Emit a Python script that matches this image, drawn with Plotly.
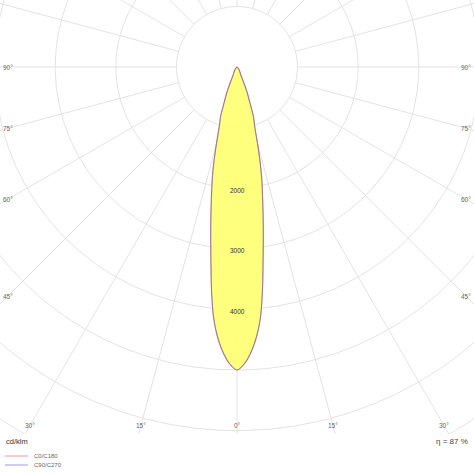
import numpy as np
import plotly.graph_objects as go

# ---------------- data ----------------
gamma_deg = [0, 1.55, 3.03, 4.27, 5.37, 6.52, 8.15, 9.17, 10.3, 12.16, 13.12, 14.52,
             16.79, 18.26, 19.56, 21.8, 23.4, 25.4, 30, 40, 50, 60, 70, 80, 90]
i_c0_c180 = [5000, 4886, 4677, 4435, 4144, 3704, 3051, 2724, 2398, 1958, 1745, 1415,
             1000, 869, 666, 444, 270, 146, 100, 40, 15, 5, 2, 0, 0]
i_c90_c270 = [5000, 4886, 4677, 4435, 4144, 3704, 3051, 2724, 2398, 1958, 1745, 1415,
              1000, 869, 666, 444, 270, 146, 100, 40, 15, 5, 2, 0, 0]
ring_values = [1000, 2000, 3000, 4000, 5000, 6000, 7000]
ring_labels = [2000, 3000, 4000]
spoke_angles = list(range(0, 360, 15))
side_label_angles = [90, 75, 60, 45]
bottom_label_angles = [30, 15, 0]
unit_text = "cd/klm"
efficiency_text = "η = 87 %"
series_names = ["C0/C180", "C90/C270"]

# ---------------- geometry ----------------
W, H_PLOT, MB = 474, 434, 40
CX, CY = 237, 67          # pixel position of the luminaire
S = 0.0606                # px per cd/klm

def px2x(px):
    return (px - CX) / S

def px2y(py):
    return (CY - py) / S

def curve(ivals):
    g = np.radians(np.array(gamma_deg, dtype=float))
    iv = np.array(ivals, dtype=float)
    gl = -g[::-1]
    il = iv[::-1]
    gr = g[1:]
    ir = iv[1:]
    gg = np.concatenate([gl, gr])
    ii = np.concatenate([il, ir])
    return ii * np.sin(gg), -ii * np.cos(gg)

fig = go.Figure()

GRID = "#e3e3e3"
t = np.linspace(0, 2 * np.pi, 721)
for rv in ring_values:
    fig.add_trace(go.Scatter(x=rv * np.cos(t), y=rv * np.sin(t), mode="lines",
                             line=dict(color=GRID, width=1), hoverinfo="skip",
                             showlegend=False))
for a in spoke_angles:
    ar = np.radians(a)
    r0, r1 = ring_values[0], 9000
    fig.add_trace(go.Scatter(x=[r0 * np.sin(ar), r1 * np.sin(ar)],
                             y=[-r0 * np.cos(ar), -r1 * np.cos(ar)], mode="lines",
                             line=dict(color=GRID, width=1), hoverinfo="skip",
                             showlegend=False))

xf, yf = curve(i_c0_c180)
fig.add_trace(go.Scatter(x=xf, y=yf, mode="lines", fill="toself",
                         fillcolor="rgba(255,255,112,0.9)",
                         line=dict(width=0, shape="spline", smoothing=0.8),
                         hoverinfo="skip", showlegend=False))
x0, y0 = curve(i_c0_c180)
fig.add_trace(go.Scatter(x=x0, y=y0, mode="lines", name=series_names[0],
                         line=dict(color="#b87c72", width=1.1, shape="spline", smoothing=0.8),
                         showlegend=False))
x9, y9 = curve(i_c90_c270)
fig.add_trace(go.Scatter(x=x9, y=y9, mode="lines", name=series_names[1],
                         line=dict(color="rgba(120,110,210,0.35)", width=1,
                                   shape="spline", smoothing=0.8),
                         showlegend=False))

ann = []
for v in ring_labels:
    ann.append(dict(x=0, y=-v, text=str(v), showarrow=False, yshift=-2,
                    font=dict(size=6.5, color="#333333", family="Liberation Sans")))

XL, XR, YB = px2x(8), px2x(466), px2y(425)
def edge_point(a, side):
    ar = np.radians(a)
    sx, sy = np.sin(ar), -np.cos(ar)
    cands = []
    if sx > 1e-9:
        cands.append(abs(XL) / sx)
    if sy < -1e-9:
        cands.append(YB / sy)
    tt = min(cands)
    return side * sx * tt, sy * tt

lab_font = dict(size=6.5, color="#666666", family="Liberation Sans")
for a in side_label_angles:
    for side in (-1, 1):
        x, y = edge_point(a, side)
        ann.append(dict(x=x, y=y, text=f"{a}°", showarrow=False, font=lab_font))
for a in bottom_label_angles:
    sides = (-1, 1) if a != 0 else (1,)
    for side in sides:
        x, y = edge_point(a, side)
        ann.append(dict(x=x, y=y, text=f"{a}°", showarrow=False, font=lab_font))

def pxp(px):
    return px / W

def pyp(py):
    return (H_PLOT - py) / H_PLOT

ann.append(dict(xref="paper", yref="paper", x=pxp(4), y=pyp(441), text=unit_text,
                xanchor="left", yanchor="middle", showarrow=False,
                font=dict(size=7.5, color="#333333", family="Liberation Sans")))
ann.append(dict(xref="paper", yref="paper", x=pxp(470), y=pyp(441), text=efficiency_text,
                xanchor="right", yanchor="middle", showarrow=False,
                font=dict(size=8, color="#444444", family="Liberation Sans")))
leg_cols = ["#f09a92", "#9a9af0"]
leg_y = [456, 465]
shapes = []
for name, col, ly in zip(series_names, leg_cols, leg_y):
    shapes.append(dict(type="line", xref="paper", yref="paper", x0=pxp(5), x1=pxp(28),
                       y0=pyp(ly), y1=pyp(ly), line=dict(color=col, width=1)))
    ann.append(dict(xref="paper", yref="paper", x=pxp(32), y=pyp(ly), text=name,
                    xanchor="left", yanchor="middle", showarrow=False,
                    font=dict(size=6, color="#666666", family="Liberation Sans")))

fig.update_layout(
    width=W, height=W, margin=dict(l=0, r=0, t=0, b=MB),
    paper_bgcolor="white", plot_bgcolor="white",
    xaxis=dict(range=[px2x(0), px2x(W)], visible=False, fixedrange=True),
    yaxis=dict(range=[px2y(H_PLOT), px2y(0)], visible=False, fixedrange=True),
    annotations=ann, shapes=shapes, showlegend=False,
)
fig.write_html("out.html", config={"displayModeBar": False},
               post_script="document.body.style.margin='0';document.body.style.overflow='hidden';")
